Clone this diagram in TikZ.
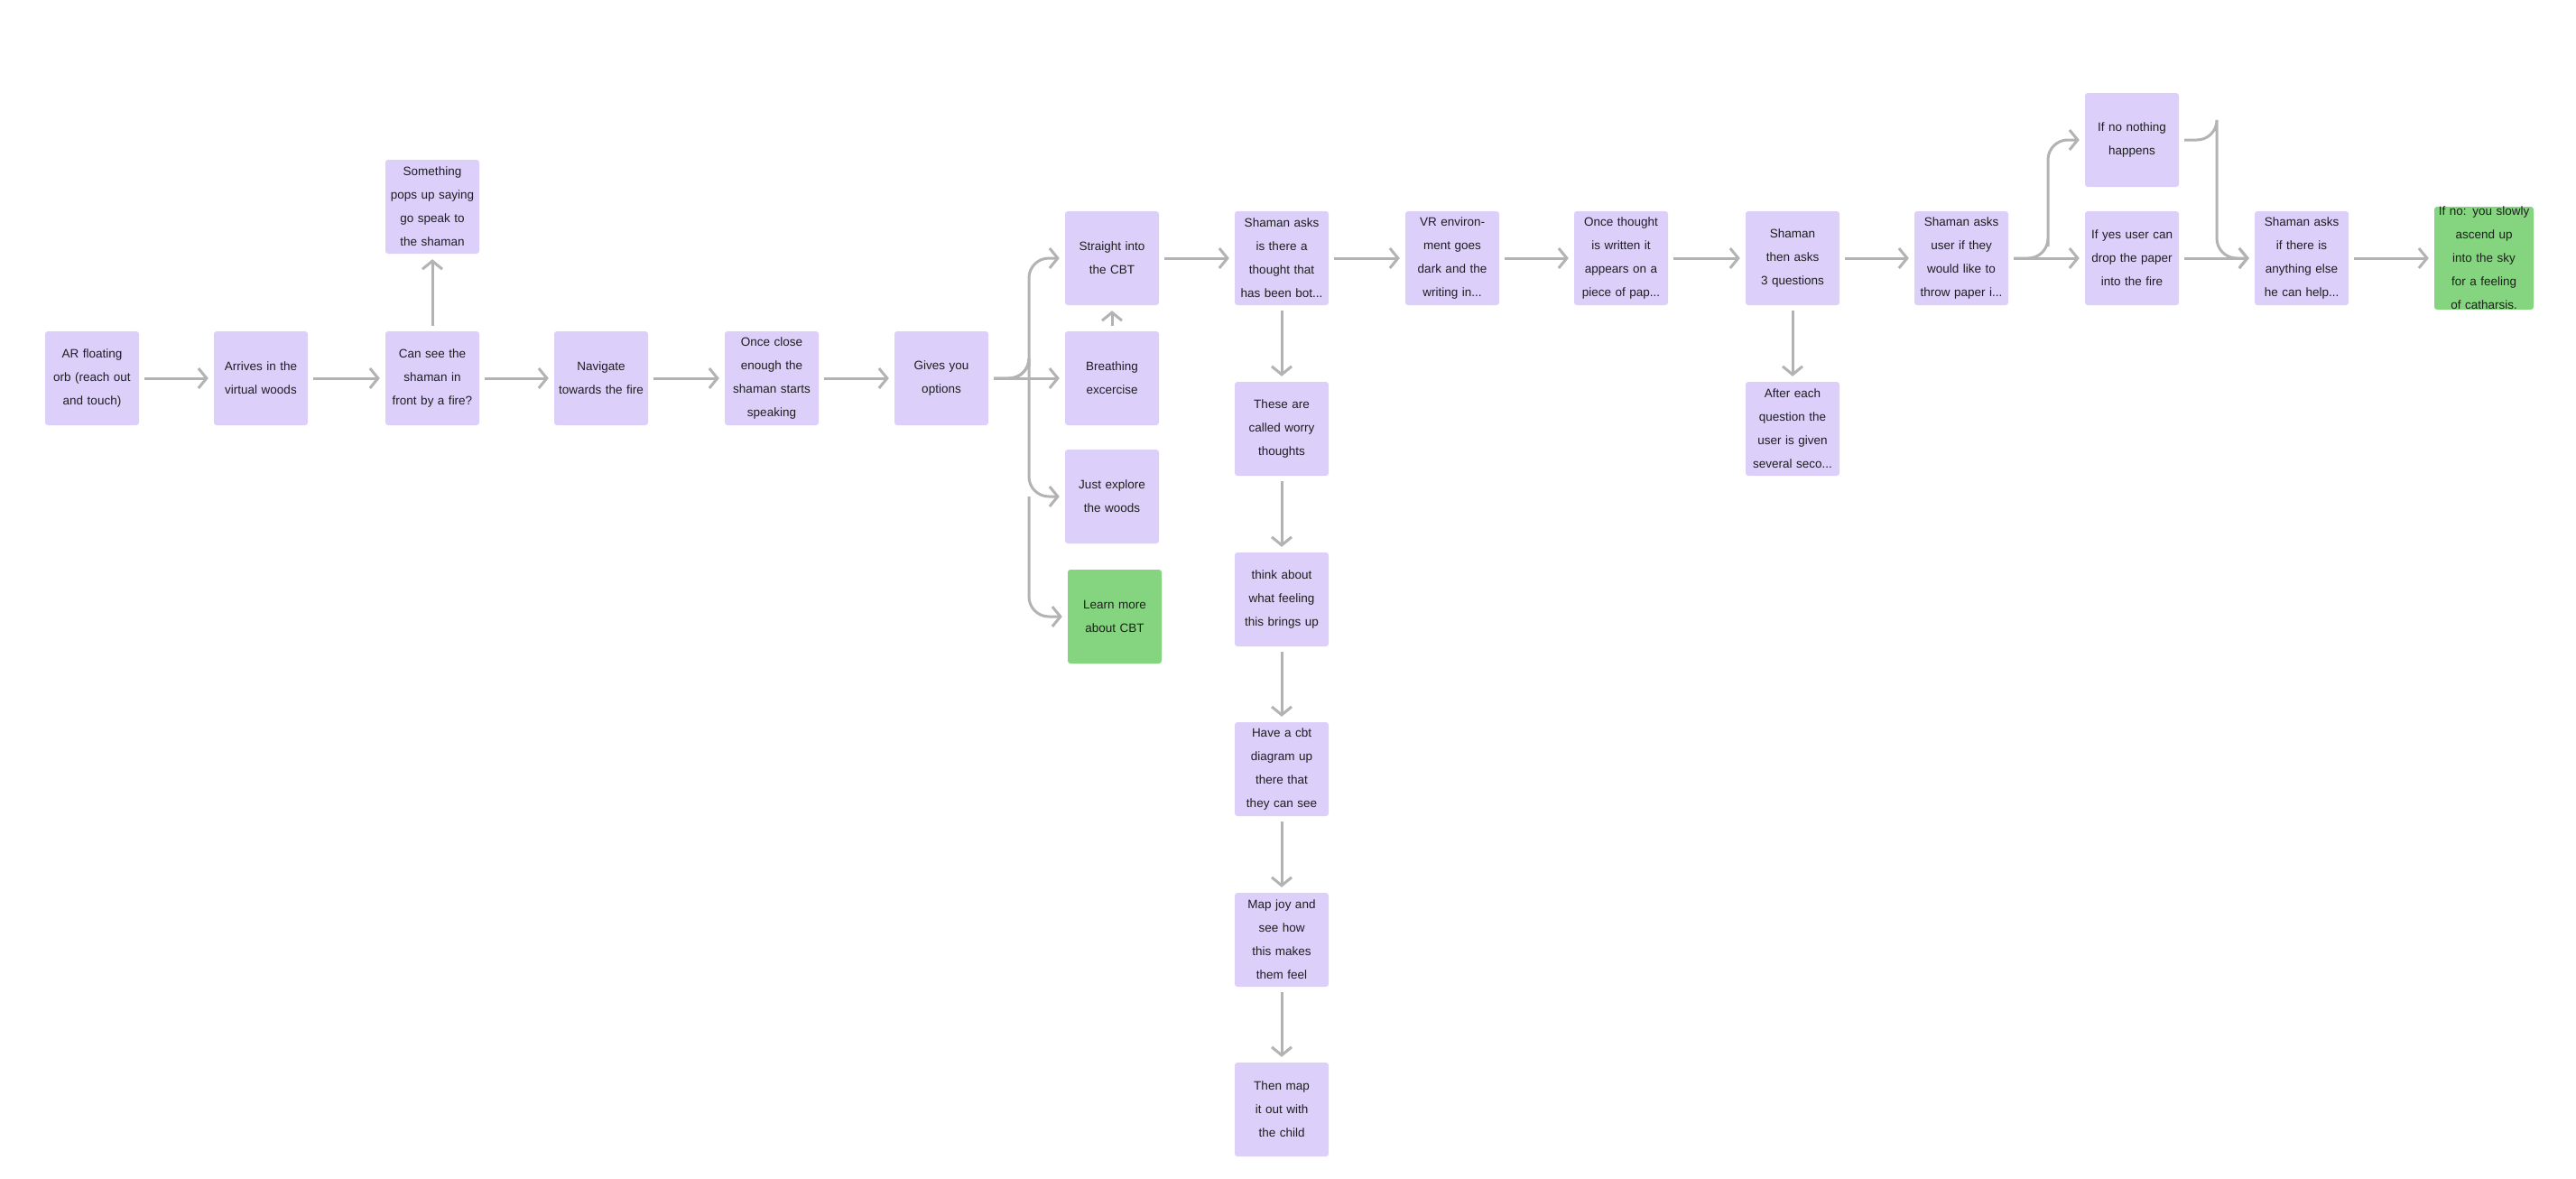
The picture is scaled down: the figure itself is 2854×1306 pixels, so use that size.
\documentclass[tikz,border=0pt]{standalone}
\usepackage{fontspec}
\setmainfont{Liberation Sans}
\usetikzlibrary{arrows.meta}
\definecolor{lav}{HTML}{DCD0FB}
\definecolor{grn}{HTML}{85D47F}
\definecolor{arr}{HTML}{B3B3B3}
\definecolor{txt}{HTML}{1E1E1E}
\begin{document}
\begin{tikzpicture}[x=1pt,y=-1pt,
  box/.style={fill=lav,rounded corners=3pt,minimum width=104pt,minimum height=104pt,text width=94pt,align=center,font=\fontsize{13.5}{26}\selectfont,text=txt,inner sep=0pt},
  gbox/.style={box,fill=grn},
  con/.style={draw=arr,line width=3pt,rounded corners=22pt,-{Straight Barb[length=9pt,width=22pt,line width=3pt]},shorten >=6pt,shorten <=6pt}]
\useasboundingbox (0,0) rectangle (2854,1306);
\node[box] (a) at (102,419) {AR floating orb (reach out and touch)};
\node[box] (b) at (289,419) {Arrives in the virtual woods};
\node[box] (c) at (479,419) {Can see the shaman in front by a fire?};
\node[box] (s) at (479,229) {Something pops up saying go speak to the shaman};
\node[box] (d) at (666,419) {Navigate towards the fire};
\node[box] (e) at (855,419) {Once close enough the shaman starts speaking};
\node[box] (f) at (1043,419) {Gives you options};
\node[box] (g1) at (1232,286) {Straight into the CBT};
\node[box] (g2) at (1232,419) {Breathing excercise};
\node[box] (g3) at (1232,550) {Just explore the woods};
\node[gbox] (g4) at (1235,683) {Learn more about CBT};
\node[box] (h) at (1420,286) {Shaman asks is there a thought that has been bot...};
\node[box] (v1) at (1420,475) {These are called worry thoughts};
\node[box] (v2) at (1420,664) {think about what feeling this brings up};
\node[box] (v3) at (1420,852) {Have a cbt diagram up there that they can see};
\node[box] (v4) at (1420,1041) {Map joy and see how this makes them feel};
\node[box] (v5) at (1420,1229) {Then map it out with the child};
\node[box] (i) at (1609,286) {VR environment goes dark and the writing in...};
\node[box] (j) at (1796,286) {Once thought is written it appears on a piece of pap...};
\node[box] (k) at (1986,286) {Shaman then asks 3 questions};
\node[box] (k2) at (1986,475) {After each question the user is given several seco...};
\node[box] (l) at (2173,286) {Shaman asks user if they would like to throw paper i...};
\node[box] (m1) at (2362,155) {If no nothing happens};
\node[box] (m2) at (2362,286) {If yes user can drop the paper into the fire};
\node[box] (n) at (2550,286) {Shaman asks if there is anything else he can help...};
\node[gbox,minimum width=110pt,text width=102pt] (o) at (2752,286) {If no: you slowly ascend up into the sky for a feeling of catharsis.};
\coordinate (br) at (1140,419);
\draw[con] (a) -- (b);
\draw[con] (b) -- (c);
\draw[con] (c) -- (s);
\draw[con] (c) -- (d);
\draw[con] (d) -- (e);
\draw[con] (e) -- (f);
\draw[con] (f) -- (g2);
\draw[con] (f.east) -| (br) |- (g1);
\draw[con] (f.east) -| (br) |- (g3);
\draw[con,shorten <=0pt] (br |- g3) |- (g4);
\draw[con] (g2) -- (g1);
\draw[con] (g1) -- (h);
\draw[con] (h) -- (i);
\draw[con] (i) -- (j);
\draw[con] (j) -- (k);
\draw[con] (k) -- (l);
\draw[con] (k) -- (k2);
\draw[con] (h) -- (v1);
\draw[con] (v1) -- (v2);
\draw[con] (v2) -- (v3);
\draw[con] (v3) -- (v4);
\draw[con] (v4) -- (v5);
\draw[con] (l) -- (m2);
\coordinate (b2) at (2269,286);
\draw[con] (l.east) -| (b2) |- (m1);
\draw[con] (m2) -- (n);
\coordinate (b3) at (2456,155);
\draw[con] (m1.east) -| (b3) |- (n);
\draw[con] (n) -- (o);
\end{tikzpicture}
\end{document}
